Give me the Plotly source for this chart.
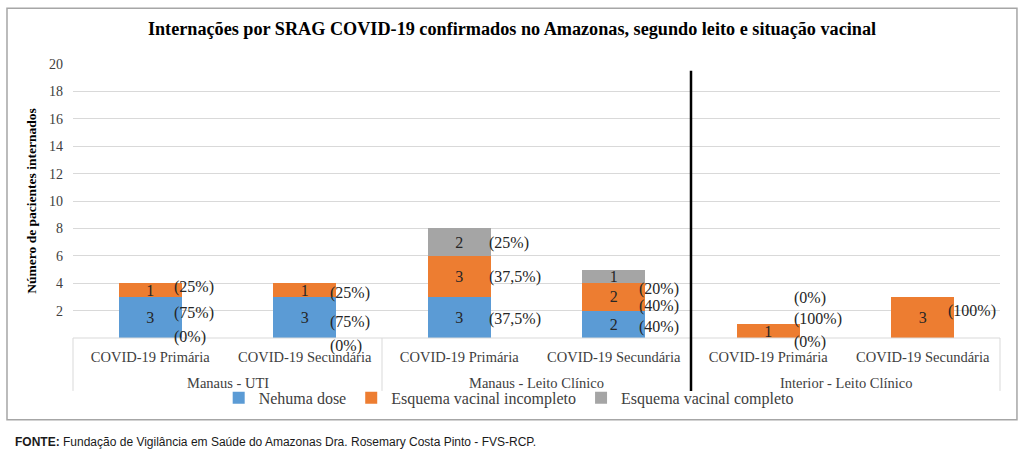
import plotly.graph_objects as go

# ---------------- data ----------------
categories = ["COVID-19 Primária", "COVID-19 Secundária",
              "COVID-19 Primária", "COVID-19 Secundária",
              "COVID-19 Primária", "COVID-19 Secundária"]
groups = ["Manaus - UTI", "Manaus - Leito Clínico", "Interior - Leito Clínico"]
series_names = ["Nehuma dose", "Esquema vacinal incompleto", "Esquema vacinal completo"]
nenhuma = [3, 3, 3, 2, 0, 0]
incompleto = [1, 1, 3, 2, 1, 3]
completo = [0, 0, 2, 1, 0, 0]
pct_nenhuma = ["(75%)", "(75%)", "(37,5%)", "(40%)", "(0%)", ""]
pct_incompleto = ["(25%)", "(25%)", "(37,5%)", "(40%)", "(100%)", "(100%)"]
pct_completo = ["(0%)", "(0%)", "(25%)", "(20%)", "(0%)", ""]
y_ticks = [2, 4, 6, 8, 10, 12, 14, 16, 18, 20]

# ---------------- style / placement (pixels) ----------------
colors = ["#5B9BD5", "#ED7D31", "#A5A5A5"]
pct_dx = [22, 23, 28, 23, 24, 23]
dy_nenhuma = [-4, 5, 2, 3, 4, 0]
dy_incompleto = [-3, 3, 1, 9, -12, -6]
dy_completo = [54, 63, 1, 13, -26, 0]

SERIF = "Liberation Serif"
TXT = "#262626"
AX = "#404040"
GRID = "#d9d9d9"

x = list(range(len(categories)))
fig = go.Figure()
for name, vals, col in zip(series_names, [nenhuma, incompleto, completo], colors):
    fig.add_trace(go.Bar(
        x=x, y=vals, name=name, marker=dict(color=col, line=dict(width=0)),
        text=[str(v) if v else "" for v in vals], textposition="inside",
        insidetextanchor="middle", constraintext="none", textangle=0,
        textfont=dict(family=SERIF, size=16, color=TXT),
    ))

# percentage labels anchored to each stacked segment
annotations = []
for i in x:
    n, inc, c = nenhuma[i], incompleto[i], completo[i]
    mids = [n / 2, n + inc / 2, n + inc + c / 2]
    for txt, mid, dy in zip([pct_nenhuma[i], pct_incompleto[i], pct_completo[i]], mids,
                            [dy_nenhuma[i], dy_incompleto[i], dy_completo[i]]):
        if not txt:
            continue
        annotations.append(dict(
            x=i, y=mid, xref="x", yref="y", text=txt, showarrow=False,
            xanchor="left", yanchor="middle", xshift=pct_dx[i], yshift=-dy,
            font=dict(family=SERIF, size=16, color=TXT)))

# group labels (second level of category axis)
for g, name in enumerate(groups):
    annotations.append(dict(
        x=2 * g + 0.5, y=-0.164, xref="x", yref="paper", text=name, showarrow=False,
        xanchor="center", yanchor="middle", font=dict(family=SERIF, size=14.5, color=AX)))

# footer
annotations.append(dict(
    x=-0.0647, y=-0.378, xref="paper", yref="paper", xanchor="left", yanchor="middle",
    showarrow=False,
    text="<b>FONTE:</b> Fundação de Vigilância em Saúde do Amazonas Dra. Rosemary Costa Pinto - FVS-RCP.",
    font=dict(family="Liberation Sans", size=12, color="#1a1a1a")))

shapes = [
    # outer frame
    dict(type="rect", xref="paper", yref="paper", x0=-0.0712, x1=1.0183, y0=-0.298, y1=1.2036,
         line=dict(color="#a6a6a6", width=1.5), fillcolor="rgba(0,0,0,0)", layer="below"),
    # category axis box
    dict(type="line", xref="paper", yref="paper", x0=0, x1=1, y0=0, y1=0,
         line=dict(color=GRID, width=1)),
    dict(type="line", xref="paper", yref="paper", x0=0, x1=0, y0=0, y1=-0.193,
         line=dict(color=GRID, width=1)),
    dict(type="line", xref="paper", yref="paper", x0=1, x1=1, y0=0, y1=-0.193,
         line=dict(color=GRID, width=1)),
    dict(type="line", xref="x", yref="paper", x0=1.5, x1=1.5, y0=0, y1=-0.193,
         line=dict(color=GRID, width=1)),
    # black separator line
    dict(type="line", xref="x", yref="paper", x0=3.5, x1=3.5, y0=0.975, y1=-0.193,
         line=dict(color="black", width=2.5)),
]

fig.update_layout(
    width=1024, height=453,
    font=dict(family=SERIF, color=AX),
    margin=dict(l=73, r=24, t=64, b=115, autoexpand=False),
    paper_bgcolor="white", plot_bgcolor="white",
    barmode="stack", bargap=0.59,
    title=dict(text="<b>Internações por SRAG COVID-19 confirmados no Amazonas, segundo leito e situação vacinal</b>",
               x=0.5, xanchor="center", y=1 - 29 / 453, yanchor="middle",
               font=dict(family=SERIF, size=18.2, color="black")),
    xaxis=dict(range=[-0.5, 5.5], tickmode="array", tickvals=x, ticktext=categories,
               showgrid=False, zeroline=False, showline=False, ticks="",
               tickfont=dict(family=SERIF, size=14.5, color=AX), ticklabelstandoff=8),
    yaxis=dict(range=[0, 20], tickmode="array", tickvals=y_ticks, showgrid=True,
               gridcolor=GRID, gridwidth=1, zeroline=False, showline=False, ticks="",
               tickfont=dict(family=SERIF, size=14, color=AX), ticklabelstandoff=9,
               title=dict(text="<b>Número de pacientes internados</b>", standoff=9,
                          font=dict(family=SERIF, size=13.5, color="black"))),
    legend=dict(orientation="h", x=0.47, xanchor="center", y=-0.218, yanchor="middle",
                font=dict(family=SERIF, size=16, color=AX), itemwidth=30,
                bgcolor="rgba(0,0,0,0)", traceorder="normal"),
    annotations=annotations, shapes=shapes, showlegend=True,
)

fig.write_html("out.html", config={"displayModeBar": False},
               post_script="document.body.style.margin='0';document.body.style.overflow='hidden';")
